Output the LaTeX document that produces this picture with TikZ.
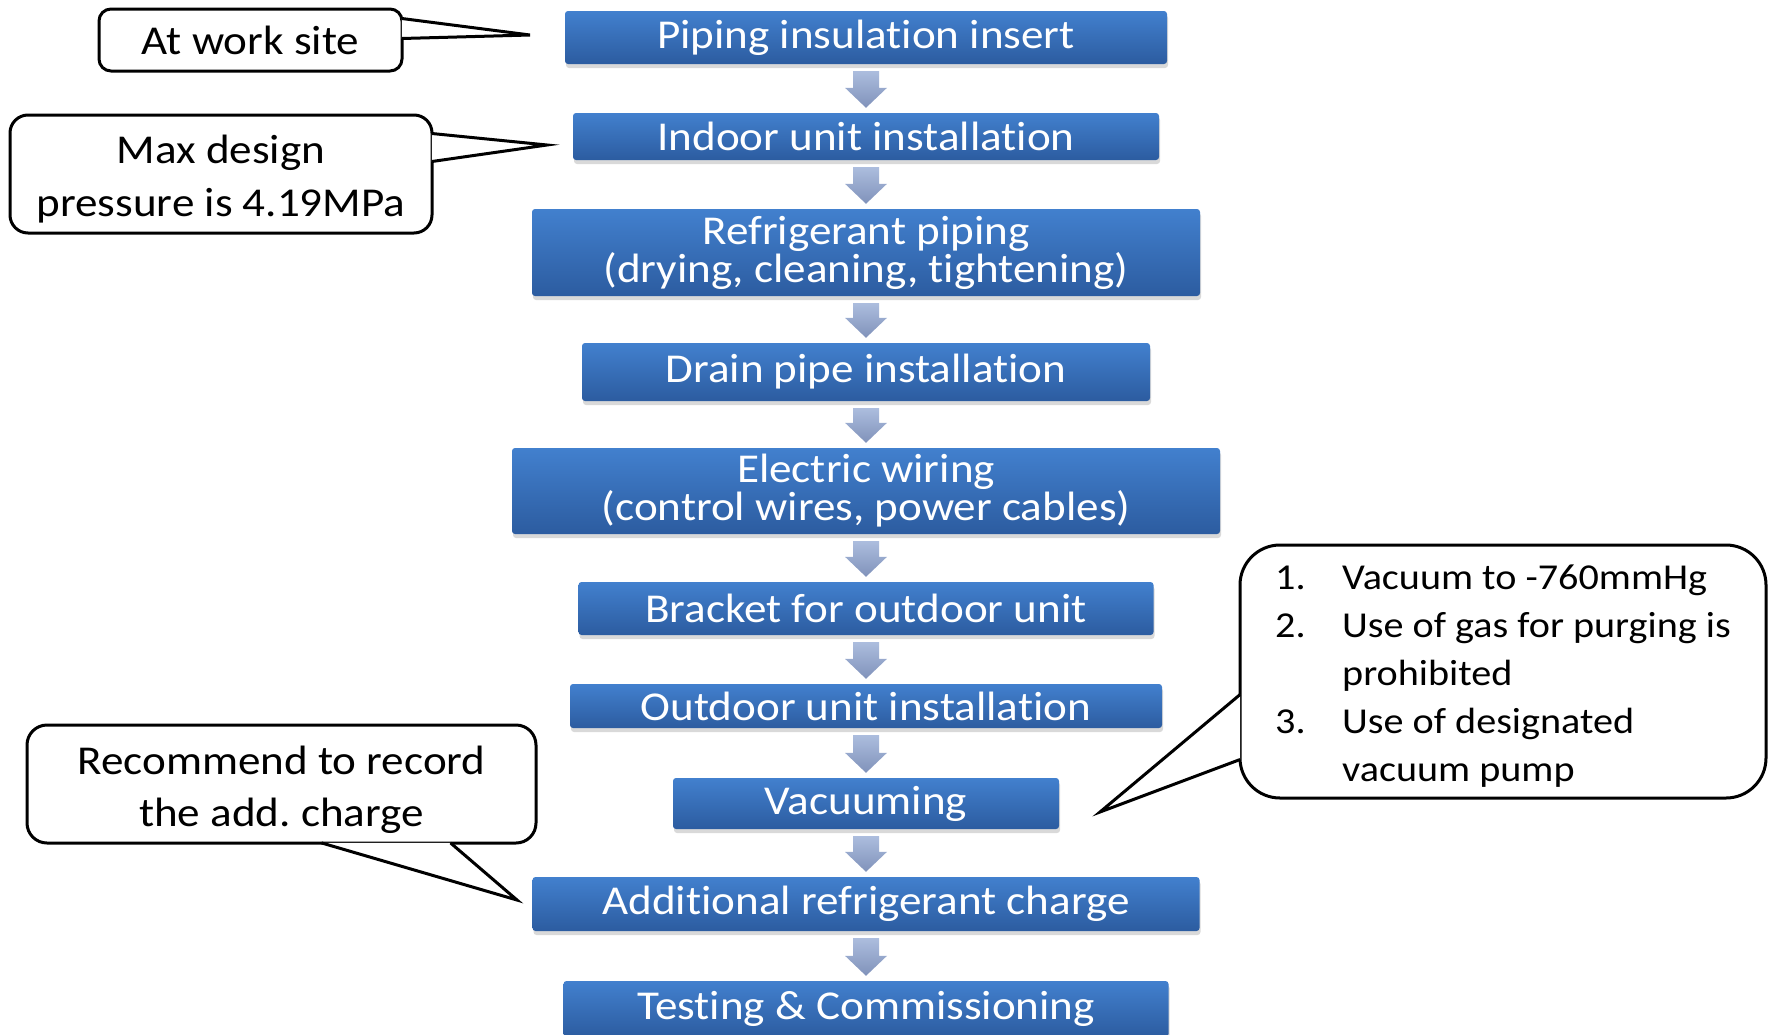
\documentclass[tikz,border=0pt]{standalone}
\usepackage{fontspec}
\setmainfont{Carlito}[FakeStretch=1.1,Ligatures=NoCommon]
\usetikzlibrary{calc,shadows}

\definecolor{stepTop}{RGB}{66,128,206}
\definecolor{stepBot}{RGB}{44,92,160}
\definecolor{flowTop}{RGB}{172,189,222}
\definecolor{flowBot}{RGB}{128,146,186}

\begin{document}
\begin{tikzpicture}[x=1pt,y=-1pt,
  stage/.style={rectangle,rounded corners=3pt,top color=stepTop,bottom color=stepBot,
    text=white,align=center,inner sep=0pt,font=\fontsize{41}{37}\selectfont,
    drop shadow={opacity=0.3,shadow xshift=1pt,shadow yshift=-4pt}},
  note/.style={rectangle,draw=black,line width=3pt,fill=white,align=center,
    inner sep=0pt,font=\fontsize{41}{53}\selectfont},
  tail/.style={draw=black,line width=3pt,fill=white},
  flow/.style={top color=flowTop,bottom color=flowBot}]
  \useasboundingbox (0,0) rectangle (1771,1034);

  % process steps
  \node[stage,minimum width=602pt,minimum height=53pt] (pipe) at (866,37.5) {Piping insulation insert};
  \node[stage,minimum width=586pt,minimum height=47pt] (indoor) at (866,136.5) {Indoor unit installation};
  \node[stage,minimum width=668pt,minimum height=87pt] (refpipe) at (866,252.5) {Refrigerant piping\\(drying, cleaning, tightening)};
  \node[stage,minimum width=568pt,minimum height=58pt] (drain) at (866,372) {Drain pipe installation};
  \node[stage,minimum width=708pt,minimum height=86pt] (wiring) at (866,491) {Electric wiring\\(control wires, power cables)};
  \node[stage,minimum width=575pt,minimum height=53pt] (bracket) at (866,608.5) {Bracket for outdoor unit};
  \node[stage,minimum width=592pt,minimum height=44pt] (outdoor) at (866,706) {Outdoor unit installation};
  \node[stage,minimum width=386pt,minimum height=51pt] (vacuum) at (866,803.5) {Vacuuming};
  \node[stage,minimum width=667pt,minimum height=54pt] (charge) at (866,904) {Additional refrigerant charge};
  \node[stage,minimum width=605pt,minimum height=56pt] (testing) at (866,1009) {Testing \& Commissioning};

  \foreach \a/\b in {pipe/indoor,indoor/refpipe,refpipe/drain,drain/wiring,wiring/bracket,
      bracket/outdoor,outdoor/vacuum,vacuum/charge,charge/testing}
    \shade[flow] ($(\a.south)+(-13,7)$) -- ($(\a.south)+(13,7)$) -- ($(\b.north)+(13,-25)$)
      -- ($(\b.north)+(21,-25)$) -- ($(\b.north)+(0,-5)$) -- ($(\b.north)+(-21,-25)$)
      -- ($(\b.north)+(-13,-25)$) -- cycle;

  % callouts
  \node[note,rounded corners=12pt,minimum width=303pt,minimum height=62pt] (site) at (250.5,40) {At work site};
  \node[note,rounded corners=18pt,minimum width=422pt,minimum height=118pt] (pressure) at (221,174)
    {\rule{0pt}{38pt}Max design\\pressure is 4.19MPa};
  \node[note,rounded corners=20pt,minimum width=509pt,minimum height=118pt,
    font=\fontsize{41}{52}\selectfont] (record) at (281.5,784)
    {\rule{0pt}{41pt}Recommend to record\\the add.\ charge};
  \node[note,rounded corners=40pt,minimum width=526pt,minimum height=253pt,
    font=\fontsize{36.5}{48}\selectfont] (vacnote) at (1503,671.5)
    {\begin{tabular}{@{}p{67pt}@{}l@{}}1.&\rule{0pt}{42.6pt}Vacuum to -760mmHg\\2.&Use of gas for purging is\\
      &prohibited\\3.&Use of designated\\&vacuum pump\end{tabular}};

  \coordinate (siteTip) at (530,35);
  \coordinate (pressTip) at (547,145);
  \coordinate (recTip) at (517,900);
  \coordinate (vacTip) at (1100,812);

  \filldraw[tail] ($(site.north east)+(-1.6,11)$) -- (siteTip) -- ($(site.north east)+(-1.6,31)$);
  \filldraw[tail] ($(pressure.north east)+(-1.6,20)$) -- (pressTip) -- ($(pressure.north east)+(-1.6,48)$);
  \filldraw[tail] ($(record.south west)+(296,-1.6)$) -- (recTip) -- ($(record.south west)+(425,-1.6)$);
  \filldraw[tail] ($(vacnote.south west)+(1.6,-105)$) -- (vacTip) -- ($(vacnote.south west)+(1.6,-40)$);
\end{tikzpicture}
\end{document}
